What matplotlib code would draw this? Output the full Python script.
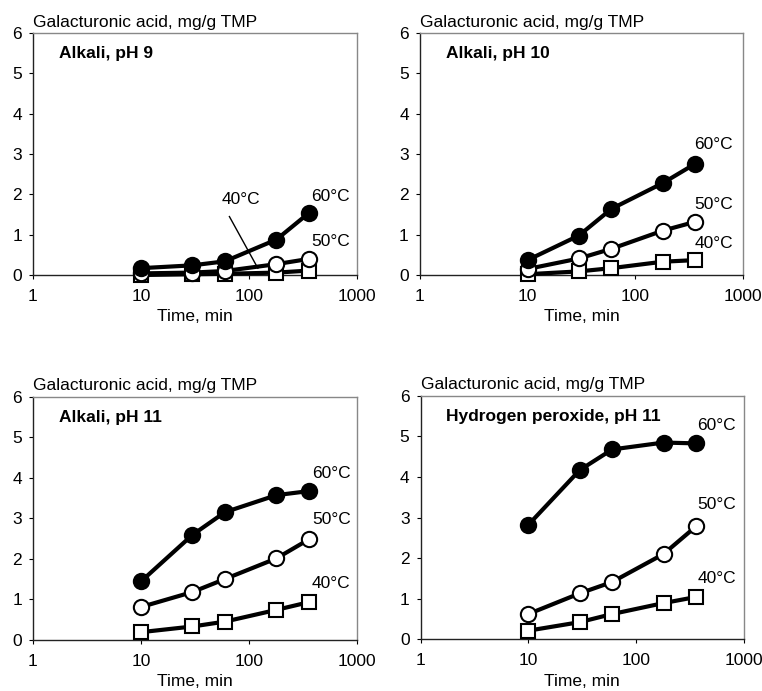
import numpy as np
import matplotlib
matplotlib.use("Agg")
import matplotlib.pyplot as plt

# time points (min)
times = [10, 30, 60, 180, 360]

panel_titles = ["Alkali, pH 9", "Alkali, pH 10", "Alkali, pH 11", "Hydrogen peroxide, pH 11"]

# galacturonic acid, mg/g TMP
ph9_60 = [0.17, 0.24, 0.34, 0.88, 1.54]
ph9_50 = [0.04, 0.06, 0.10, 0.27, 0.40]
ph9_40 = [0.00, 0.02, 0.03, 0.06, 0.11]

ph10_60 = [0.37, 0.98, 1.64, 2.28, 2.76]
ph10_50 = [0.15, 0.41, 0.65, 1.10, 1.32]
ph10_40 = [0.02, 0.09, 0.17, 0.33, 0.37]

ph11_60 = [1.44, 2.59, 3.15, 3.57, 3.67]
ph11_50 = [0.81, 1.18, 1.50, 2.01, 2.48]
ph11_40 = [0.19, 0.33, 0.45, 0.74, 0.93]

hp_60 = [2.82, 4.17, 4.68, 4.85, 4.83]
hp_50 = [0.62, 1.13, 1.41, 2.10, 2.78]
hp_40 = [0.21, 0.42, 0.62, 0.89, 1.04]

panel_data = [
    (ph9_60, ph9_50, ph9_40),
    (ph10_60, ph10_50, ph10_40),
    (ph11_60, ph11_50, ph11_40),
    (hp_60, hp_50, hp_40),
]

# label positions (x, y) for 60/50/40 °C
label_pos = [
    [(375, 1.95), (375, 0.83), None],
    [(355, 3.25), (355, 1.76), (355, 0.79)],
    [(385, 4.11), (385, 2.96), (385, 1.40)],
    [(370, 5.28), (370, 3.31), (370, 1.50)],
]
temps = ["60°C", "50°C", "40°C"]

FS = 12.5
plt.rcParams.update({"font.family": ["Liberation Sans", "DejaVu Sans"], "font.size": FS})
fig = plt.figure(figsize=(7.62, 6.91), dpi=100)

boxes = [
    [0.0433, 0.602, 0.425, 0.350],
    [0.551, 0.602, 0.424, 0.350],
    [0.0433, 0.074, 0.425, 0.352],
    [0.552, 0.075, 0.424, 0.352],
]

styles = [
    dict(marker="o", mfc="black", mec="black", ms=11),
    dict(marker="o", mfc="white", mec="black", ms=11),
    dict(marker="s", mfc="white", mec="black", ms=10.5),
]

for i, box in enumerate(boxes):
    ax = fig.add_axes(box)
    ax.set_xscale("log")
    ax.set_xlim(1, 1000)
    ax.set_ylim(0, 6)
    # draw 40 first so filled markers sit on top
    for k in [2, 1, 0]:
        ax.plot(times, panel_data[i][k], color="black", lw=3.0, mew=1.5,
                clip_on=False, zorder=3 + (2 - k), **styles[k])
    for k, pos in enumerate(label_pos[i]):
        if pos is not None:
            ax.text(pos[0], pos[1], temps[k], fontsize=FS, ha="left", va="center")
    ax.text(0.08, 0.945, panel_titles[i], transform=ax.transAxes, fontsize=FS,
            fontweight="bold", ha="left", va="top")
    ax.text(0.0, 1.015, "Galacturonic acid, mg/g TMP", transform=ax.transAxes,
            fontsize=FS, ha="left", va="bottom")
    ax.set_xlabel("Time, min", fontsize=FS, labelpad=4)
    ax.set_xticks([1, 10, 100, 1000])
    ax.set_xticklabels(["1", "10", "100", "1000"])
    ax.xaxis.set_minor_locator(matplotlib.ticker.NullLocator())
    ax.set_yticks(range(0, 7))
    ax.tick_params(direction="out", length=3, width=0.8, labelsize=FS)
    ax.tick_params(axis="x", pad=7)
    ax.tick_params(axis="y", pad=5)
    for side in ["top", "right"]:
        ax.spines[side].set_color("#888888")
        ax.spines[side].set_linewidth(1.0)
    for side in ["left", "bottom"]:
        ax.spines[side].set_color("#222222")
        ax.spines[side].set_linewidth(1.0)

    if i == 0:
        ax.text(85, 1.87, "40°C", fontsize=FS, ha="center", va="center")
        ax.plot([66, 121], [1.45, 0.17], color="black", lw=1.0, zorder=2)

fig.savefig("out.png", dpi=100)
